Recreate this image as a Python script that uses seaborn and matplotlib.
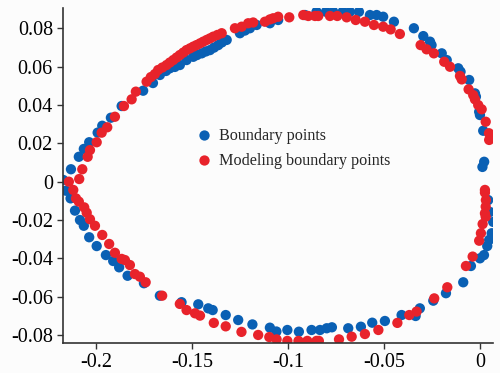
import numpy as np
import pandas as pd
import matplotlib
matplotlib.use('Agg')
import matplotlib.pyplot as plt
from matplotlib.ticker import FuncFormatter
import seaborn as sns

# boundary points (blue)
bx = [-0.2170, -0.2130, -0.2089, -0.2063, -0.2035, -0.1991, -0.1967, -0.1922, -0.1866, -0.1754,
      -0.1703, -0.1667, -0.1635, -0.1615, -0.1589, -0.1563, -0.1528, -0.1493, -0.1474, -0.1449,
      -0.1427, -0.1406, -0.1385, -0.1363, -0.1344, -0.1319, -0.1250, -0.1224, -0.1198, -0.1163,
      -0.1094, -0.1051, -0.0911, -0.0851, -0.0802, -0.0764, -0.0715, -0.0677, -0.0630, -0.0573,
      -0.0538, -0.0504, -0.0448, -0.0344, -0.0295, -0.0260, -0.0252, -0.0199, -0.0173, -0.0113,
      -0.0101, -0.0056, -0.0026, -0.0021, -0.0004, 0.0000, 0.0017, 0.0061, 0.0022, 0.0013,
      0.0043, 0.0052, 0.0069, 0.0061, 0.0048, 0.0038, 0.0021, 0.0000, -0.0047, -0.0087,
      -0.0177, -0.0243, -0.0313, -0.0335, -0.0408, -0.0495, -0.0561, -0.0620, -0.0686, -0.0771,
      -0.0798, -0.0833, -0.0877, -0.0943, -0.1003, -0.1060, -0.1094, -0.1185, -0.1259, -0.1324,
      -0.1392, -0.1415, -0.1467, -0.1554, -0.1667, -0.1750, -0.1835, -0.1879, -0.1910, -0.1948,
      -0.1996, -0.2035, -0.2063, -0.2083, -0.2109, -0.2132, -0.2156]
by = [0.0009, 0.0065, 0.0130, 0.0171, 0.0206, 0.0256, 0.0292, 0.0334, 0.0395, 0.0475,
      0.0515, 0.0557, 0.0578, 0.0592, 0.0599, 0.0609, 0.0635, 0.0652, 0.0661, 0.0670,
      0.0680, 0.0687, 0.0700, 0.0713, 0.0727, 0.0740, 0.0775, 0.0789, 0.0801, 0.0818,
      0.0827, 0.0844, 0.0870, 0.0887, 0.0887, 0.0887, 0.0887, 0.0887, 0.0887, 0.0870,
      0.0870, 0.0861, 0.0835, 0.0801, 0.0760, 0.0731, 0.0713, 0.0670, 0.0635, 0.0592,
      0.0574, 0.0531, 0.0461, 0.0444, 0.0365, 0.0348, 0.0266, 0.0231, 0.0104, 0.0077,
      -0.0096, -0.0158, -0.0210, -0.0269, -0.0304, -0.0336, -0.0383, -0.0400, -0.0440, -0.0525,
      -0.0582, -0.0621, -0.0661, -0.0701, -0.0696, -0.0727, -0.0736, -0.0757, -0.0765, -0.0760,
      -0.0765, -0.0774, -0.0774, -0.0783, -0.0774, -0.0782, -0.0762, -0.0745, -0.0722, -0.0696,
      -0.0670, -0.0661, -0.0640, -0.0629, -0.0595, -0.0530, -0.0491, -0.0447, -0.0414, -0.0383,
      -0.0336, -0.0290, -0.0230, -0.0200, -0.0151, -0.0087, -0.0047]

# modeling boundary points (red)
mx = [-0.2141, -0.2087, -0.2071, -0.2043, -0.2031, -0.1996, -0.1970, -0.1941, -0.1901, -0.1854,
      -0.1814, -0.1792, -0.1736, -0.1714, -0.1693, -0.1676, -0.1654, -0.1632, -0.1615, -0.1597,
      -0.1580, -0.1563, -0.1545, -0.1528, -0.1510, -0.1493, -0.1476, -0.1458, -0.1441, -0.1423,
      -0.1406, -0.1389, -0.1367, -0.1345, -0.1276, -0.1241, -0.1207, -0.1181, -0.1120, -0.1094,
      -0.1077, -0.1051, -0.0993, -0.0920, -0.0894, -0.0859, -0.0842, -0.0781, -0.0743, -0.0694,
      -0.0647, -0.0599, -0.0552, -0.0504, -0.0465, -0.0417, -0.0309, -0.0278, -0.0240, -0.0186,
      -0.0156, -0.0104, -0.0095, -0.0059, -0.0035, -0.0026, -0.0009, 0.0009, 0.0030, 0.0047,
      0.0048, 0.0026, 0.0026, 0.0031, 0.0030, 0.0026, 0.0030, 0.0014, 0.0005, -0.0004,
      -0.0038, -0.0073, -0.0170, -0.0238, -0.0330, -0.0368, -0.0430, -0.0529, -0.0599, -0.0668,
      -0.0734, -0.0839, -0.0851, -0.0899, -0.0945, -0.1003, -0.1059, -0.1097, -0.1155, -0.1242,
      -0.1324, -0.1386, -0.1458, -0.1484, -0.1528, -0.1563, -0.1655, -0.1741, -0.1771, -0.1797,
      -0.1823, -0.1849, -0.1866, -0.1901, -0.1931, -0.1967, -0.2005, -0.2031, -0.2048, -0.2061,
      -0.2089, -0.2104, -0.2118]
my = [0.0000, 0.0014, 0.0065, 0.0130, 0.0165, 0.0206, 0.0256, 0.0284, 0.0339, 0.0395,
      0.0430, 0.0470, 0.0522, 0.0546, 0.0562, 0.0583, 0.0596, 0.0609, 0.0622, 0.0635,
      0.0648, 0.0661, 0.0674, 0.0687, 0.0696, 0.0705, 0.0713, 0.0722, 0.0731, 0.0740,
      0.0748, 0.0757, 0.0766, 0.0775, 0.0801, 0.0809, 0.0827, 0.0831, 0.0835, 0.0847,
      0.0853, 0.0861, 0.0858, 0.0870, 0.0865, 0.0865, 0.0865, 0.0865, 0.0865, 0.0858,
      0.0844, 0.0835, 0.0818, 0.0809, 0.0795, 0.0771, 0.0713, 0.0691, 0.0670, 0.0626,
      0.0600, 0.0552, 0.0534, 0.0482, 0.0452, 0.0430, 0.0400, 0.0378, 0.0313, 0.0253,
      0.0218, -0.0043, -0.0057, -0.0096, -0.0130, -0.0165, -0.0183, -0.0221, -0.0269, -0.0308,
      -0.0391, -0.0440, -0.0551, -0.0609, -0.0678, -0.0696, -0.0737, -0.0774, -0.0795, -0.0809,
      -0.0823, -0.0831, -0.0831, -0.0831, -0.0831, -0.0831, -0.0823, -0.0811, -0.0800, -0.0784,
      -0.0755, -0.0737, -0.0699, -0.0687, -0.0670, -0.0638, -0.0595, -0.0525, -0.0496, -0.0482,
      -0.0435, -0.0409, -0.0403, -0.0371, -0.0325, -0.0278, -0.0230, -0.0196, -0.0162, -0.0134,
      -0.0104, -0.0087, -0.0043]

xticks = [-0.2, -0.15, -0.1, -0.05, 0]
yticks = [-0.08, -0.06, -0.04, -0.02, 0, 0.02, 0.04, 0.06, 0.08]

df = pd.concat([
    pd.DataFrame({'x': bx, 'y': by, 'kind': 'Boundary points'}),
    pd.DataFrame({'x': mx, 'y': my, 'kind': 'Modeling boundary points'}),
], ignore_index=True)

sns.set_style('white')
plt.rcParams['font.family'] = ['Liberation Serif', 'DejaVu Serif']
plt.rcParams['axes.unicode_minus'] = False

fig = plt.figure(figsize=(5, 3.73), dpi=100, facecolor='#fcfcfc')
ax = fig.add_axes([0.1254, 0.0804, 0.8606, 0.8973])
ax.set_facecolor('#fcfcfc')

sns.scatterplot(data=df, x='x', y='y', hue='kind',
                palette={'Boundary points': '#0a60b4', 'Modeling boundary points': '#e8232b'},
                s=55, edgecolor='none', linewidth=0, ax=ax)

ax.set_xlim(-0.2173, 0.0068)
ax.set_ylim(-0.0842, 0.0905)
ax.set_xticks(xticks)
ax.set_yticks(yticks)
fmt = FuncFormatter(lambda v, p: '%g' % round(v, 4))
ax.xaxis.set_major_formatter(fmt)
ax.yaxis.set_major_formatter(fmt)
ax.set_xlabel('')
ax.set_ylabel('')
ax.tick_params(axis='both', direction='out', length=4, width=1, color='#333333',
               labelsize=14.5, labelcolor='black', pad=3, bottom=True, left=True)

sns.despine(ax=ax)
for side in ['left', 'bottom']:
    ax.spines[side].set_color('#333333')
    ax.spines[side].set_linewidth(1.2)

ax.legend(loc='center left', bbox_to_anchor=(0.273, 0.580), frameon=False,
          fontsize=11.6, handlelength=1.2, handletextpad=0.3, labelspacing=0.55)

fig.savefig('out.png', dpi=100, facecolor=fig.get_facecolor())
